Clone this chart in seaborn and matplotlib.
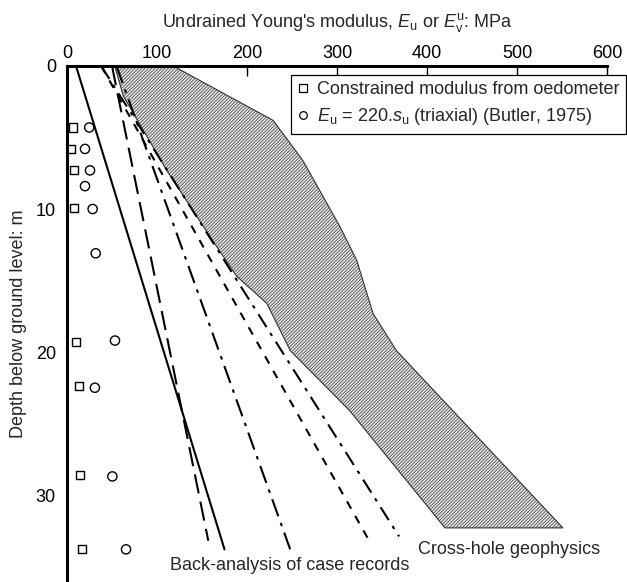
import matplotlib
matplotlib.use("Agg")
import matplotlib.pyplot as plt
import seaborn as sns
import pandas as pd
from matplotlib.lines import Line2D

# ---------------- data ----------------
oedo_E = [6.7, 4.4, 7.8, 7.8, 9.6, 13.3, 14.8, 17.0]
oedo_depth = [4.3, 5.8, 7.3, 9.9, 19.3, 22.4, 28.6, 33.8]

triax_E = [24.7, 20.0, 25.6, 20.0, 28.5, 31.9, 53.3, 31.0, 50.4, 65.6]
triax_depth = [4.3, 5.8, 7.3, 8.4, 10.0, 13.1, 19.2, 22.5, 28.7, 33.8]

back_names = ["solid", "long dash", "dash-dot A", "short dash", "dash-dot B"]
back_E_top = [10, 50, 55, 38, 38]
back_depth_top = [0, 0, 0, 0, 0]
back_E_bottom = [175, 157, 248, 334, 369]
back_depth_bottom = [33.8, 33.2, 33.8, 33.0, 32.9]

band_left_E = [53, 62.6, 110.8, 136.7, 166, 188.5, 222, 248, 281, 314, 420]
band_left_depth = [0, 2.1, 7.3, 9.8, 12.6, 14.7, 16.6, 19.9, 22.0, 24.1, 32.3]
band_right_E = [118, 229, 262, 303, 322, 340, 366, 551]
band_right_depth = [0, 3.8, 6.6, 11.2, 13.6, 17.3, 19.9, 32.3]

x_ticks = [0, 100, 200, 300, 400, 500, 600]
y_ticks = [0, 10, 20, 30]

# ---------------- style ----------------
sns.set_style("white")
plt.rcParams["font.family"] = ["Liberation Sans", "DejaVu Sans"]
plt.rcParams["mathtext.fontset"] = "custom"
plt.rcParams["mathtext.rm"] = "Liberation Sans"
plt.rcParams["mathtext.it"] = "Liberation Sans:italic"
plt.rcParams["lines.scale_dashes"] = False
plt.rcParams["hatch.linewidth"] = 0.5
plt.rcParams["hatch.color"] = "#8a8a8a"

FS = 13

fig = plt.figure(figsize=(6.27, 5.82), dpi=100)
ax = fig.add_axes([67 / 627, 0, 540 / 627, 516 / 582])

# band (cross-hole geophysics)
poly_E = band_left_E + band_right_E[::-1]
poly_d = band_left_depth + band_right_depth[::-1]
ax.fill(poly_E, poly_d, facecolor="#e6e6e6", edgecolor="#333333",
        hatch="//////////", linewidth=0.8, zorder=1)

# back-analysis lines
styles = {
    "solid": "-",
    "long dash": (0, (14, 6)),
    "dash-dot A": (0, (13, 5, 2.5, 5)),
    "short dash": (0, (6, 6)),
    "dash-dot B": (0, (11, 5, 2.5, 5)),
}
for name, e0, d0, e1, d1 in zip(back_names, back_E_top, back_depth_top,
                                back_E_bottom, back_depth_bottom):
    df = pd.DataFrame({"E": [e0, e1], "d": [d0, d1]})
    n_before = len(ax.lines)
    sns.lineplot(data=df, x="E", y="d", color="black", linewidth=1.5,
                 sort=False, estimator=None, ax=ax, zorder=3)
    for ln in ax.lines[n_before:]:
        ln.set_linestyle(styles[name])

# data points
sns.scatterplot(x=oedo_E, y=oedo_depth, marker="s", s=34, facecolor="none",
                edgecolor="black", linewidth=1.0, ax=ax, zorder=4)
sns.scatterplot(x=triax_E, y=triax_depth, marker="o", s=44, facecolor="none",
                edgecolor="black", linewidth=1.0, ax=ax, zorder=4)

# axes
ax.set_xlim(0, 600)
ax.set_ylim(516 / 14.3, 0)
ax.xaxis.tick_top()
ax.xaxis.set_label_position("top")
ax.set_xticks(x_ticks)
ax.set_yticks(y_ticks)
ax.tick_params(axis="x", direction="in", length=7, width=1, pad=3,
               labelsize=FS, colors="black")
ax.tick_params(axis="y", direction="inout", length=12, width=1, pad=2,
               labelsize=FS, colors="black")
for s in ["right", "bottom"]:
    ax.spines[s].set_visible(False)
for s in ["top", "left"]:
    ax.spines[s].set_linewidth(2.2)
    ax.spines[s].set_color("black")

ax.set_xlabel(r"Undrained Young's modulus, $E_\mathrm{u}$ or $E^\mathrm{u}_\mathrm{v}$: MPa",
              fontsize=FS, labelpad=13)
ax.set_ylabel("Depth below ground level: m", fontsize=FS)
ax.yaxis.set_label_coords((27 - 67) / 540, 0.5)

# legend
handles = [
    Line2D([], [], marker="s", linestyle="none", markerfacecolor="none",
           markeredgecolor="black", markersize=5.5, markeredgewidth=0.9),
    Line2D([], [], marker="o", linestyle="none", markerfacecolor="none",
           markeredgecolor="black", markersize=5.5, markeredgewidth=0.9),
]
labels = ["Constrained modulus from oedometer",
          r"$E_\mathrm{u}$ = 220.$s_\mathrm{u}$ (triaxial) (Butler, 1975)"]
leg = ax.legend(handles, labels, loc="upper right",
                bbox_to_anchor=(626 / 627, 1 - 75 / 582),
                bbox_transform=fig.transFigure, borderaxespad=0,
                fontsize=FS, frameon=True, fancybox=False, framealpha=1,
                handlelength=0.6, handletextpad=0.5, borderpad=0.35,
                labelspacing=0.45)
leg.get_frame().set_edgecolor("black")
leg.get_frame().set_linewidth(0.9)
leg.set_zorder(10)

# annotations
fig.text(170 / 627, 1 - 565 / 582, "Back-analysis of case records",
         fontsize=FS, va="center", ha="left")
fig.text(418 / 627, 1 - 550 / 582, "Cross-hole geophysics",
         fontsize=FS, va="center", ha="left")

fig.savefig("out.png", dpi=100)
